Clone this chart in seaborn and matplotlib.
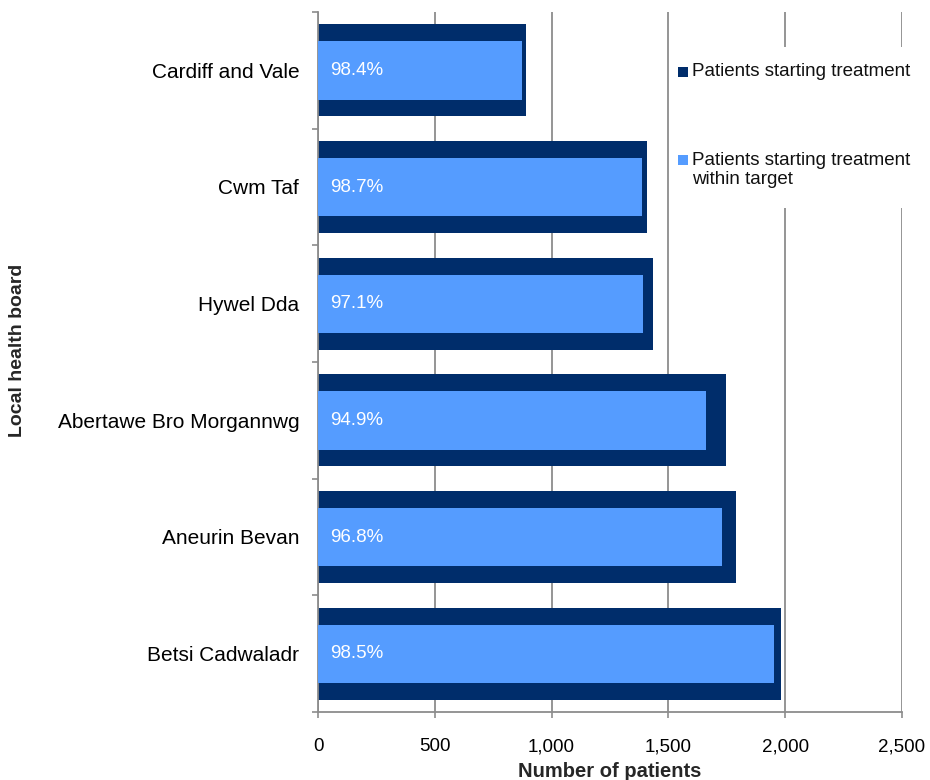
import matplotlib
matplotlib.use('Agg')
import matplotlib.pyplot as plt
import seaborn as sns
import pandas as pd
import numpy as np
from matplotlib.patches import Rectangle
from matplotlib.ticker import FuncFormatter

boards = ["Cardiff and Vale", "Cwm Taf", "Hywel Dda", "Abertawe Bro Morgannwg",
          "Aneurin Bevan", "Betsi Cadwaladr"]
started = [889, 1407, 1432, 1748, 1788, 1983]
within_target = [875, 1389, 1390, 1659, 1731, 1953]
pct_labels = ["98.4%", "98.7%", "97.1%", "94.9%", "96.8%", "98.5%"]
x_ticks = [0, 500, 1000, 1500, 2000, 2500]
legend_labels = ["Patients starting treatment", "Patients starting treatment\nwithin target"]

dark = "#002D6B"
light = "#559CFF"
grid_c = "#8c8c8c"

sns.set_theme(style="white")
plt.rcParams['font.family'] = ['Liberation Sans', 'DejaVu Sans']

df = pd.DataFrame({"board": boards, "started": started, "within": within_target})

W, H = 930, 780
fig = plt.figure(figsize=(W / 100, H / 100), dpi=100)
ax = fig.add_axes([318/W, 68/H, 584/W, 700/H])

sns.barplot(data=df, y="board", x="started", orient="h", color=dark, width=0.79,
            saturation=1, linewidth=0, ax=ax, zorder=2)
sns.barplot(data=df, y="board", x="within", orient="h", color=light, width=0.5,
            saturation=1, linewidth=0, ax=ax, zorder=3)

for i, p in enumerate(pct_labels):
    ax.text(50, i, p, color="white", va="center", ha="left", fontsize=13.5, zorder=4)

ax.set_xlim(0, 2500)
ax.set_ylim(5.5, -0.5)
ax.set_xticks(x_ticks)
ax.xaxis.set_major_formatter(FuncFormatter(lambda v, _: f"{int(v):,}"))
ax.set_axisbelow(True)
ax.xaxis.grid(True, color=grid_c, lw=1.3, zorder=0)
ax.yaxis.grid(False)

for s in ["top", "right"]:
    ax.spines[s].set_visible(False)
for s in ["left", "bottom"]:
    ax.spines[s].set_color(grid_c)
    ax.spines[s].set_linewidth(1.3)

ax.set_yticks(range(len(boards)), labels=boards)
ax.set_yticks(np.arange(-0.5, len(boards), 1), minor=True)
ax.tick_params(axis="y", which="major", length=0, pad=13.5, labelsize=15, labelcolor="black")
ax.tick_params(axis="y", which="minor", left=True, length=4.5, width=1.2, color=grid_c, direction="out")
ax.tick_params(axis="x", which="major", bottom=True, length=4.5, width=1.2, color=grid_c,
               direction="out", pad=14.5, labelsize=13.5, labelcolor="black")

ax.set_xlabel("Number of patients", fontsize=14.5, fontweight="bold", labelpad=5)
ax.set_ylabel("")
fig.text(18/W, 1 - 350/H, "Local health board", rotation=90, fontsize=14,
         fontweight="bold", ha="center", va="center")

# Legend (white box covering the gridlines, square keys, labels)
def fx(px):
    return px / W

def fy(py):
    return 1 - py / H

fig.add_artist(Rectangle((fx(673), fy(208)), fx(930) - fx(673), fy(47) - fy(208),
                         transform=fig.transFigure, facecolor="white", edgecolor="none", zorder=5))
key_y = [72, 160]
text_y = [72, 170]
for col, ky, ty, lab in zip([dark, light], key_y, text_y, legend_labels):
    fig.add_artist(Rectangle((fx(678), fy(ky + 5)), fx(688) - fx(678), fy(ky - 5) - fy(ky + 5),
                             transform=fig.transFigure, facecolor=col, edgecolor="none", zorder=6))
    fig.text(fx(692), fy(ty), lab, fontsize=13.5, ha="left", va="center", color="#111111", zorder=7)

fig.savefig("out.png", dpi=100)
